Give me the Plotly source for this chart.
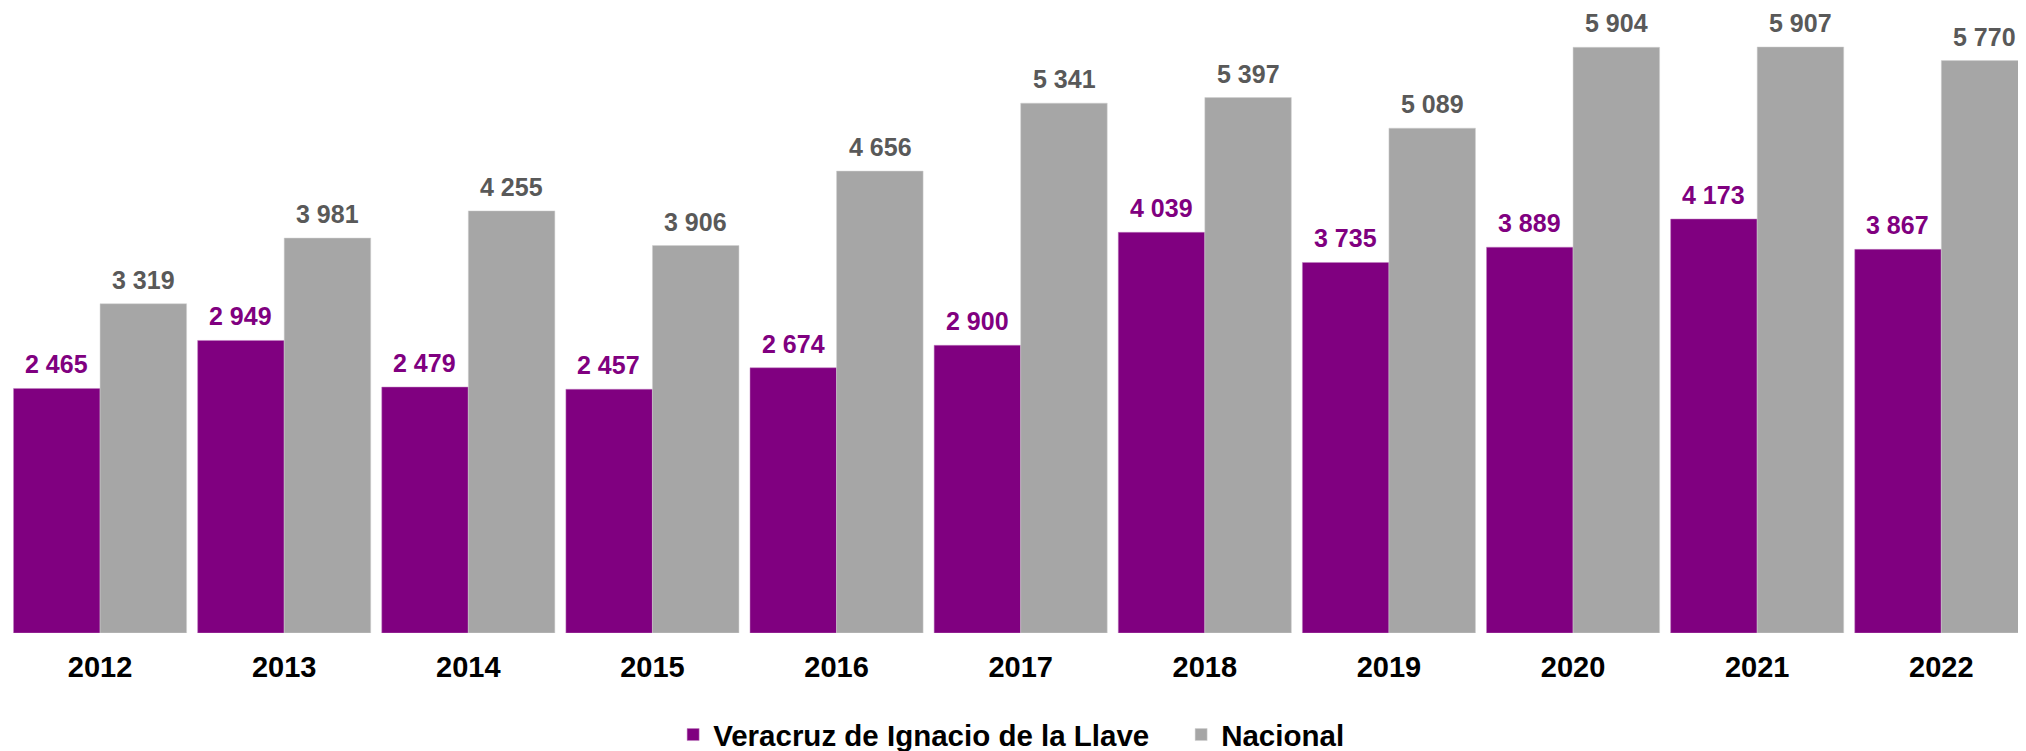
import plotly.graph_objects as go

# Datos por año
anios = ["2012", "2013", "2014", "2015", "2016", "2017", "2018", "2019", "2020", "2021", "2022"]
veracruz = [2465, 2949, 2479, 2457, 2674, 2900, 4039, 3735, 3889, 4173, 3867]
nacional = [3319, 3981, 4255, 3906, 4656, 5341, 5397, 5089, 5904, 5907, 5770]

MORADO = "#800080"
GRIS = "#A6A6A6"

fig = go.Figure()
fig.add_trace(go.Bar(x=anios, y=veracruz, name="Veracruz de Ignacio de la Llave",
                     marker_color=MORADO, marker_line_color="#C080C0", marker_line_width=0.5))
fig.add_trace(go.Bar(x=anios, y=nacional, name="Nacional",
                     marker_color=GRIS, marker_line_color="#D0D0D0", marker_line_width=0.5))

# Etiquetas de datos sobre cada barra (posición por índice de categoría)
for serie, color, desplaz in [(veracruz, MORADO, -43.5), (nacional, "#595959", 43.5)]:
    for i, v in enumerate(serie):
        fig.add_annotation(x=i, y=v, xref="x", yref="y",
                           text=f"{v:,}".replace(",", " "), showarrow=False,
                           xshift=desplaz, yshift=9, yanchor="bottom", borderpad=0,
                           font=dict(size=25, color=color, family="Liberation Sans", weight="bold"))

fig.update_layout(
    width=2018, height=743,
    margin=dict(l=0, r=0, t=0, b=118, autoexpand=False),
    plot_bgcolor="white", paper_bgcolor="white",
    barmode="group", bargap=0.06, bargroupgap=0,
    font=dict(family="Liberation Sans", color="black"),
    legend=dict(orientation="h", x=0.3296, xanchor="left", y=-0.163, yanchor="middle",
                font=dict(size=29.5, family="Liberation Sans", weight="bold"),
                entrywidth=463),
    showlegend=True,
)
fig.update_xaxes(type="category", range=[-0.5, 10.46], showgrid=False, showline=False, ticks="",
                 tickfont=dict(size=29, family="Liberation Sans", weight="bold", color="black"),
                 ticklabelstandoff=14)
fig.update_yaxes(range=[0, 6300], showticklabels=False, showgrid=False, zeroline=False,
                 showline=False, ticks="")

fig.write_html("out.html")
